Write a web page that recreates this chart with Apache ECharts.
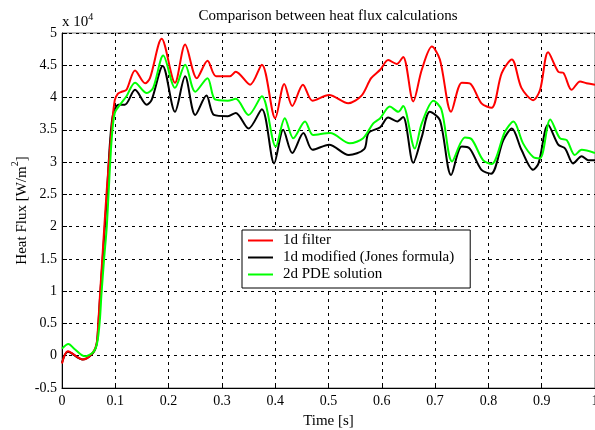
<!DOCTYPE html>
<html>
<head>
<meta charset="utf-8">
<script src="https://cdn.jsdelivr.net/npm/echarts@6/dist/echarts.min.js"></script>
<style>
  html, body { margin: 0; padding: 0; background: #fff; }
  #chart { width: 595px; height: 430px; }
</style>
</head>
<body>
<div id="chart"></div>
<script>
// Heat flux values are in units of 1e4 W/m^2 (axis shows "x 10^4").
const seriesNames = ['1d filter', '1d modified (Jones formula)', '2d PDE solution'];

const xTickLabels = ['0', '0.1', '0.2', '0.3', '0.4', '0.5', '0.6', '0.7', '0.8', '0.9', '1'];
const yTickLabels = ['-0.5', '0', '0.5', '1', '1.5', '2', '2.5', '3', '3.5', '4', '4.5', '5'];

// 1d filter
const filterTime = [0.000, 0.011, 0.039, 0.058, 0.065, 0.068, 0.071, 0.0775, 0.084, 0.093, 0.099, 0.105,
  0.112, 0.121, 0.137, 0.156, 0.165, 0.187, 0.212, 0.231, 0.253, 0.273, 0.289, 0.315, 0.326, 0.353,
  0.375, 0.400, 0.417, 0.432, 0.452, 0.470, 0.501, 0.537, 0.562, 0.580, 0.597, 0.612, 0.628, 0.640,
  0.659, 0.675, 0.694, 0.709, 0.730, 0.750, 0.765, 0.787, 0.806, 0.825, 0.844, 0.862, 0.884, 0.897,
  0.912, 0.931, 0.941, 0.956, 0.972, 0.984, 1.000];
const filterFlux = [-0.12, 0.07, -0.06, 0.05, 0.19, 0.50, 0.90, 1.75, 2.57, 3.50, 3.96, 4.06,
  4.09, 4.12, 4.42, 4.22, 4.30, 4.91, 4.23, 4.82, 4.30, 4.57, 4.33, 4.33, 4.40, 4.20,
  4.51, 3.68, 4.21, 3.87, 4.20, 3.95, 4.04, 3.91, 4.03, 4.30, 4.43, 4.58, 4.52, 4.63,
  3.94, 4.43, 4.79, 4.59, 3.78, 4.23, 4.22, 3.91, 3.84, 4.38, 4.59, 4.15, 3.96, 4.12,
  4.70, 4.40, 4.38, 4.12, 4.25, 4.22, 4.20];

// 1d modified (Jones formula)
const jonesTime = [0.000, 0.011, 0.039, 0.058, 0.065, 0.068, 0.071, 0.0775, 0.084, 0.090, 0.096, 0.106,
  0.118, 0.137, 0.159, 0.168, 0.189, 0.212, 0.231, 0.250, 0.271, 0.285, 0.311, 0.326, 0.350,
  0.375, 0.398, 0.415, 0.432, 0.453, 0.470, 0.501, 0.538, 0.567, 0.575, 0.597, 0.612, 0.629, 0.640,
  0.659, 0.675, 0.690, 0.709, 0.730, 0.750, 0.765, 0.787, 0.805, 0.828, 0.844, 0.862, 0.884, 0.894,
  0.912, 0.931, 0.944, 0.959, 0.975, 0.987, 1.000];
const jonesFlux = [-0.11, 0.06, -0.06, 0.04, 0.18, 0.45, 0.85, 1.65, 2.45, 3.30, 3.75, 3.89,
  3.89, 4.12, 3.89, 3.96, 4.49, 3.78, 4.33, 3.73, 4.03, 3.73, 3.71, 3.76, 3.52,
  3.82, 2.98, 3.50, 3.14, 3.45, 3.19, 3.27, 3.11, 3.20, 3.45, 3.54, 3.69, 3.63, 3.70,
  2.99, 3.39, 3.78, 3.65, 2.80, 3.24, 3.21, 2.88, 2.82, 3.34, 3.52, 3.19, 2.88, 2.98,
  3.58, 3.27, 3.21, 2.98, 3.09, 3.03, 3.03];

// 2d PDE solution
const pdeTime = [0.000, 0.012, 0.024, 0.043, 0.059, 0.066, 0.071, 0.074, 0.079, 0.084, 0.093, 0.099,
  0.109, 0.121, 0.137, 0.159, 0.171, 0.190, 0.212, 0.231, 0.250, 0.273, 0.287, 0.311, 0.326, 0.350,
  0.375, 0.401, 0.418, 0.434, 0.456, 0.471, 0.503, 0.540, 0.565, 0.584, 0.597, 0.615, 0.631, 0.640,
  0.662, 0.675, 0.697, 0.712, 0.732, 0.756, 0.769, 0.790, 0.806, 0.831, 0.847, 0.865, 0.884, 0.897,
  0.916, 0.934, 0.947, 0.962, 0.975, 1.000];
const pdeFlux = [0.11, 0.18, 0.10, -0.01, 0.06, 0.20, 0.55, 0.95, 1.50, 2.00, 3.34, 3.76,
  3.89, 4.02, 4.23, 4.07, 4.15, 4.65, 4.15, 4.51, 4.09, 4.30, 3.97, 3.95, 3.98, 3.73,
  4.02, 3.24, 3.68, 3.37, 3.63, 3.42, 3.45, 3.29, 3.37, 3.60, 3.68, 3.86, 3.78, 3.87,
  3.21, 3.60, 3.95, 3.81, 3.01, 3.38, 3.35, 3.03, 2.97, 3.47, 3.63, 3.29, 3.08, 3.06,
  3.66, 3.37, 3.34, 3.11, 3.19, 3.14];

const colors = ['#ff0000', '#000000', '#00ff00'];
const FONT = 'Liberation Serif';

function pairs(ts, vs) { return ts.map((t, i) => [t, vs[i]]); }

const chart = echarts.init(document.getElementById('chart'), null, { renderer: 'canvas' });

const tickText = { color: '#000', fontFamily: FONT, fontSize: 14 };
const nameText = { color: '#000', fontFamily: FONT, fontSize: 15 };
const gridLine = { show: true, lineStyle: { color: '#000', width: 1, type: [3, 4] } };

chart.setOption({
  animation: false,
  backgroundColor: '#fff',
  grid: {
    left: 62, right: 0, top: 33, bottom: 42, outerBoundsMode: 'none', containLabel: false,
    show: true, borderColor: '#777', borderWidth: 1
  },
  xAxis: {
    type: 'value', min: 0, max: 1, interval: 0.1,
    name: 'Time [s]', nameLocation: 'middle', nameGap: 26, nameMoveOverlap: false,
    nameTextStyle: nameText,
    axisLine: { show: true, onZero: false, lineStyle: { color: '#000', width: 1 } },
    axisTick: { show: true, inside: true, length: 5, lineStyle: { color: '#000' } },
    axisLabel: {
      ...tickText, margin: 6, showMaxLabel: true, showMinLabel: true,
      formatter: v => xTickLabels[Math.round(v * 10)]
    },
    splitLine: gridLine
  },
  yAxis: {
    type: 'value', min: -0.5, max: 5, interval: 0.5,
    name: '{a|Heat Flux [W/m}{s|2}{a|]}', nameLocation: 'middle', nameGap: 32, nameRotate: 90,
    nameMoveOverlap: false,
    nameTextStyle: {
      ...nameText,
      rich: {
        a: { fontFamily: FONT, fontSize: 15, color: '#000', lineHeight: 20, verticalAlign: 'bottom' },
        s: { fontFamily: FONT, fontSize: 10, color: '#000', lineHeight: 20, verticalAlign: 'top' }
      }
    },
    axisLine: { show: true, onZero: false, lineStyle: { color: '#000', width: 1 } },
    axisTick: { show: true, inside: true, length: 5, lineStyle: { color: '#000' } },
    axisLabel: {
      ...tickText, margin: 5,
      formatter: v => yTickLabels[Math.round((v + 0.5) * 2)]
    },
    splitLine: gridLine
  },
  legend: {
    orient: 'vertical', left: 242, top: 230,
    data: seriesNames,
    icon: 'rect', itemWidth: 25, itemHeight: 2, itemGap: 2,
    backgroundColor: '#fff', borderColor: '#000', borderWidth: 1,
    padding: [3, 16, 6, 6],
    textStyle: { color: '#000', fontFamily: FONT, fontSize: 15, lineHeight: 15, padding: [0, 0, 0, 5] }
  },
  graphic: [
    {
      type: 'text', x: 328, y: 16,
      style: {
        text: 'Comparison between heat flux calculations', font: '15px "Liberation Serif"', fill: '#000',
        textAlign: 'center', textVerticalAlign: 'middle'
      }
    },
    {
      type: 'text', x: 62, y: 12,
      style: {
        text: '{a|x 10}{s|4}',
        rich: {
          a: { font: '15px "Liberation Serif"', fill: '#000', lineHeight: 18, verticalAlign: 'bottom' },
          s: { font: '10px "Liberation Serif"', fill: '#000', lineHeight: 18, verticalAlign: 'top' }
        }
      }
    }
  ],
  series: [
    {
      name: seriesNames[1], type: 'line', data: pairs(jonesTime, jonesFlux), z: 2,
      showSymbol: false, smooth: 0.3, color: colors[1], lineStyle: { color: colors[1], width: 2 }
    },
    {
      name: seriesNames[0], type: 'line', data: pairs(filterTime, filterFlux), z: 3,
      showSymbol: false, smooth: 0.3, color: colors[0], lineStyle: { color: colors[0], width: 2 }
    },
    {
      name: seriesNames[2], type: 'line', data: pairs(pdeTime, pdeFlux), z: 4,
      showSymbol: false, smooth: 0.3, color: colors[2], lineStyle: { color: colors[2], width: 2 }
    }
  ]
});
</script>
</body>
</html>
